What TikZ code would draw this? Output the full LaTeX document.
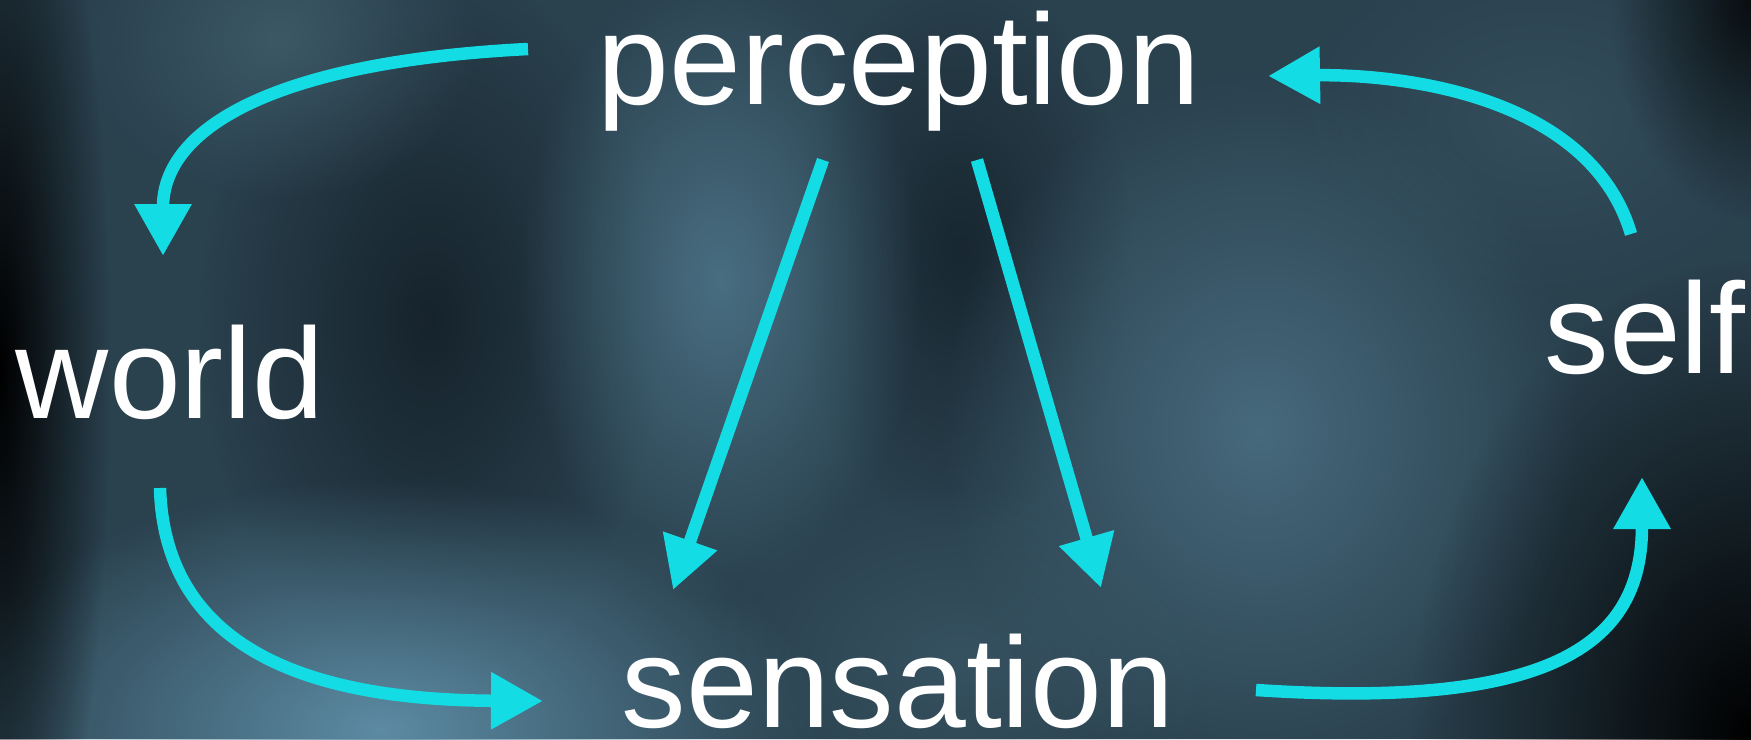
\documentclass[tikz,border=0pt]{standalone}
\usepackage{fontspec}
\setmainfont{Liberation Sans}
\usetikzlibrary{arrows.meta,fadings}
\tikzfading[name=softblob, inner color=transparent!0, outer color=transparent!100]
\definecolor{arrowc}{RGB}{19,220,228}
\definecolor{bgbase}{RGB}{42,65,78}
\tikzset{
  lbl/.style={text=white, font=\fontsize{129}{150}\selectfont, inner sep=0pt, anchor=base},
  conn/.style={draw=arrowc, line width=12.5pt, -{Triangle[length=52pt,width=54pt]}},
  blob/.style={path fading=softblob, fill opacity=#1},
}
\begin{document}
\begin{tikzpicture}[x=1pt,y=-1pt]
\useasboundingbox (0,0) rectangle (1751,739);
% background
\fill[bgbase] (0,0) rectangle (1751,739);
\fill[blob=0.9, fill={rgb,255:red,20;green,32;blue,40}] (430,320) ellipse [x radius=230pt, y radius=360pt];
\fill[blob=0.9, fill={rgb,255:red,22;green,36;blue,45}] (960,250) ellipse [x radius=170pt, y radius=280pt];
\fill[blob=0.9, fill={rgb,255:red,76;green,115;blue,135}] (720,280) ellipse [x radius=200pt, y radius=320pt];
\fill[blob=0.95, fill={rgb,255:red,95;green,143;blue,168}] (380,730) ellipse [x radius=440pt, y radius=250pt];
\fill[blob=0.7, fill={rgb,255:red,68;green,98;blue,112}] (280,40) ellipse [x radius=200pt, y radius=160pt];
\fill[blob=0.9, fill={rgb,255:red,74;green,110;blue,130}] (1260,430) ellipse [x radius=320pt, y radius=360pt];
\fill[blob=0.6, fill={rgb,255:red,62;green,92;blue,108}] (960,660) ellipse [x radius=260pt, y radius=180pt];
\fill[blob=0.6, fill={rgb,255:red,58;green,86;blue,100}] (1540,120) ellipse [x radius=250pt, y radius=180pt];
\fill[blob=1, fill=black] (1751,739) ellipse [x radius=340pt, y radius=480pt];
\fill[blob=1, fill=black] (0,370) ellipse [x radius=110pt, y radius=600pt];
\fill[blob=0.8, fill=black] (1751,0) ellipse [x radius=140pt, y radius=220pt];
% labels
\node[lbl] (perception) at (899,104) {perception};
\node[lbl] (world) at (170,418) {world};
\node[lbl] (self) at (1645,373) {self};
\node[lbl] (sensation) at (898,727) {sensation};
% connector end points
\coordinate (pw1) at (528,49);   \coordinate (pw2) at (163,256);
\coordinate (ps1) at (823,160);  \coordinate (ps2) at (673,590);
\coordinate (pr1) at (977,160);  \coordinate (pr2) at (1101,588);
\coordinate (ws1) at (160,488);  \coordinate (ws2) at (543,701);
\coordinate (ss1) at (1256,690); \coordinate (ss2) at (1642,477);
\coordinate (sp1) at (1631,234); \coordinate (sp2) at (1268,76);
% connectors
\draw[conn] (pw1) .. controls (270,62) and (163,130) .. (pw2);
\draw[conn] (ps1) -- (ps2);
\draw[conn] (pr1) -- (pr2);
\draw[conn] (ws1) .. controls (165,660) and (330,700) .. (ws2);
\draw[conn] (ss1) .. controls (1560,710) and (1642,640) .. (ss2);
\draw[conn] (sp1) .. controls (1590,95) and (1400,74) .. (sp2);
\end{tikzpicture}
\end{document}
